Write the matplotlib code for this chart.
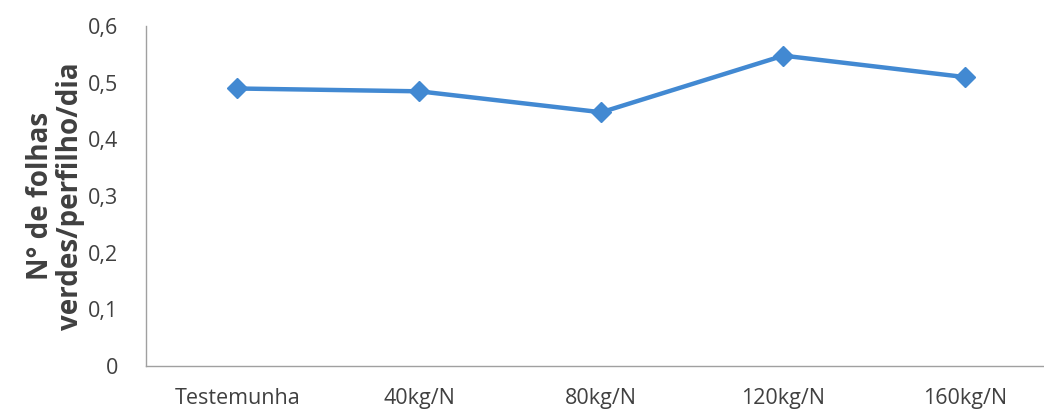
import matplotlib.pyplot as plt

# values
categorias = ["Testemunha", "40kg/N", "80kg/N", "120kg/N", "160kg/N"]
folhas_verdes = [0.49, 0.485, 0.448, 0.548, 0.51]
y_ticks = [0, 0.1, 0.2, 0.3, 0.4, 0.5, 0.6]
y_labels = ["0", "0,1", "0,2", "0,3", "0,4", "0,5", "0,6"]

plt.rcParams['font.family'] = ['Open Sans', 'DejaVu Sans']

fig = plt.figure(figsize=(10.44, 4.09), dpi=100)
ax = fig.add_axes([0.140, 0.105, 0.872, 0.831])

x = list(range(len(categorias)))
ax.plot(x, folhas_verdes, color='#4289d2', linewidth=3.2, marker='D',
        markersize=10, markerfacecolor='#4289d2', markeredgecolor='#4289d2')

ax.set_xlim(-0.5, 4.5)
ax.set_ylim(0, 0.6)
ax.set_xticks(x)
ax.set_xticklabels(categorias)
ax.set_yticks(y_ticks)
ax.set_yticklabels(y_labels)
ax.tick_params(axis='both', length=0, labelsize=15.5, colors='#404040')
ax.tick_params(axis='x', pad=16)
ax.tick_params(axis='y', pad=20)

for s in ['top', 'right']:
    ax.spines[s].set_visible(False)
for s in ['left', 'bottom']:
    ax.spines[s].set_color('#a0a0a0')
    ax.spines[s].set_linewidth(1)

ax.set_ylabel("N° de folhas\nverdes/perfilho/dia", fontsize=20, fontweight='bold',
              color='#404040', labelpad=2, linespacing=1.05)

fig.savefig("out.png", dpi=100)
